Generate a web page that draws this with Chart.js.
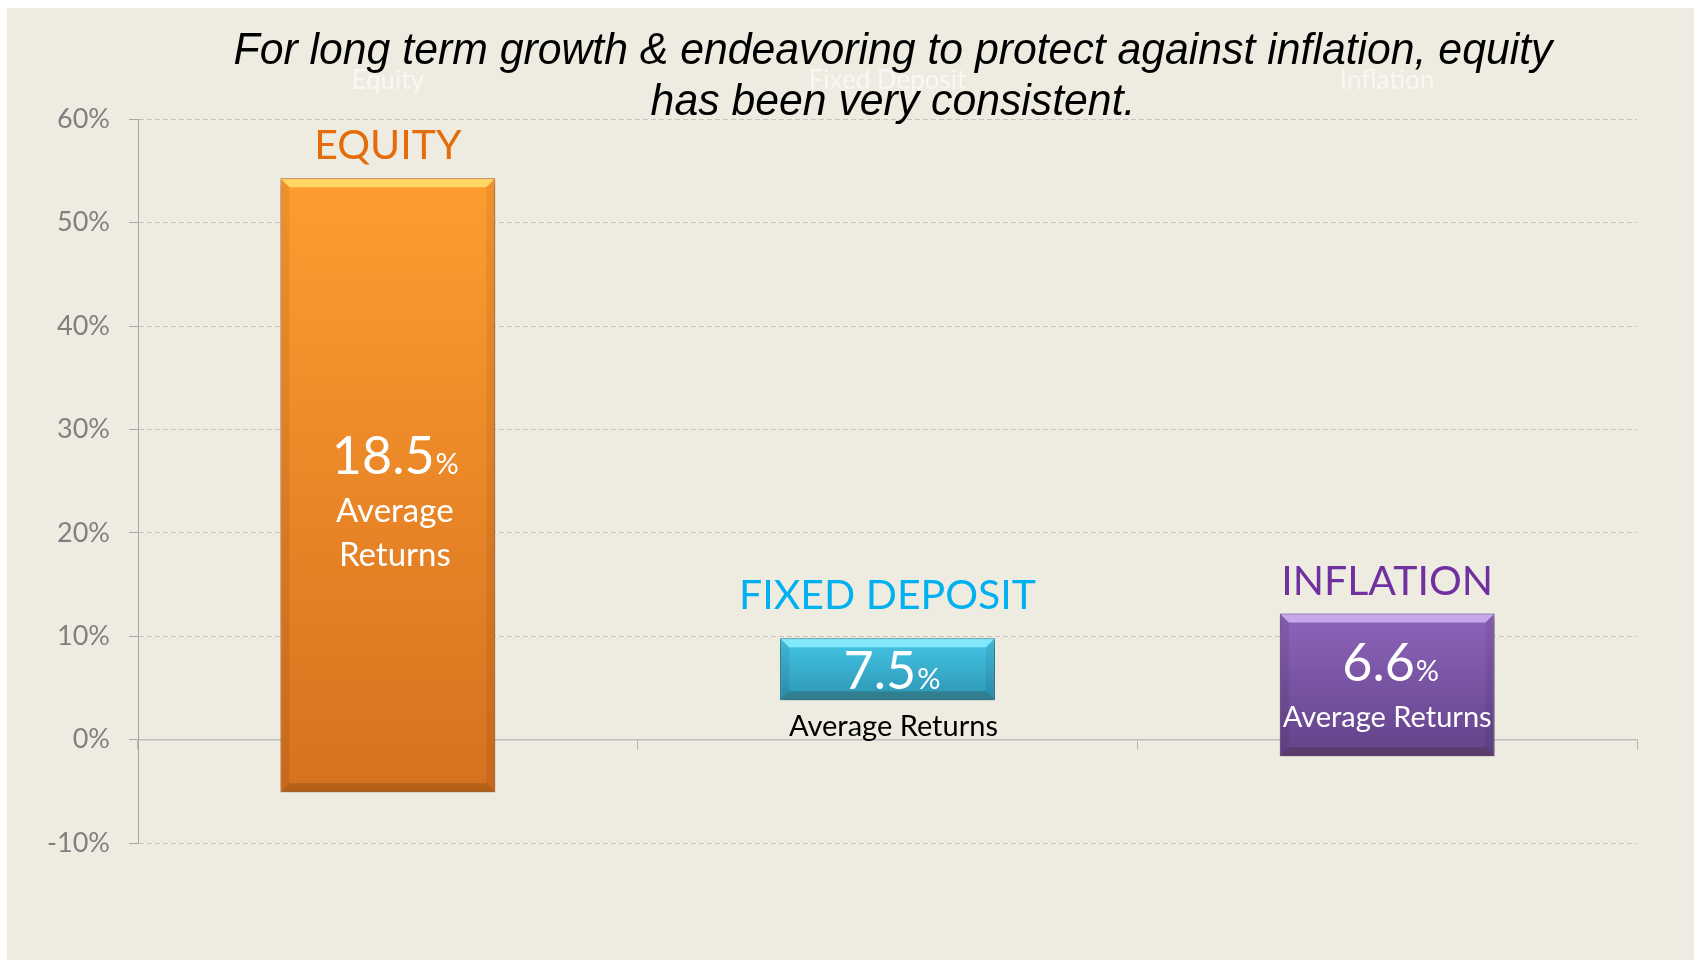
<!DOCTYPE html>
<html lang="en">
<head>
<meta charset="UTF-8" />
<meta name="viewport" content="width=device-width, initial-scale=1.0" />
<script src="https://cdn.jsdelivr.net/npm/chart.js"></script>
<title>Average Returns</title>
<style>
    html, body { margin: 0; padding: 0; background: #fff; }
    .wrap { position: relative; width: 1694px; height: 961px; }
    .headline {
        position: absolute;
        left: 93px;
        top: 23px;
        width: 1600px;
        margin: 0;
        font: italic 45px/51px "Liberation Sans Narrow", "Liberation Sans", Arial, sans-serif;
        color: #000;
        text-align: center;
        white-space: nowrap;
        pointer-events: none;
        transform: scaleX(0.95);
    }
</style>
</head>
<body>
<div class="wrap">
    <canvas id="returnsChart" width="1694" height="961"></canvas>
    <p class="headline">For long term growth &amp; endeavoring to protect against inflation, equity<br>has been very consistent.</p>
</div>

<script>
    const categories = ['Equity', 'Fixed Deposit', 'Inflation'];
    const headings = ['EQUITY', 'FIXED DEPOSIT', 'INFLATION'];
    const barLow = [-5.1, 3.8, -1.6];
    const barHigh = [54.3, 9.8, 12.2];
    const averageReturns = [18.5, 7.5, 6.6];
    const yMin = -10;
    const yMax = 60;
    const yStep = 10;

    // colours: gradient top, gradient bottom, border, bevel highlight, heading
    const fillTop = ['#ff9d30', '#46c6e6', '#8d64bb'];
    const fillBottom = ['#d6711f', '#2c95b4', '#634389'];
    const borderCol = ['#b9621a', '#23809c', '#56397a'];
    const bevelCol = ['rgba(255,226,110,0.85)', 'rgba(140,240,255,0.85)', 'rgba(210,180,245,0.85)'];
    const headingCol = ['#e46c0a', '#00b0f0', '#7030a0'];

    const BG = '#eeece1';
    const FONT = 'Lato, "Open Sans", sans-serif';

    function barFill(context) {
        const i = context.dataIndex;
        if (i === undefined) return fillTop[0];
        const y = context.chart.scales.y;
        const top = y ? y.getPixelForValue(barHigh[i]) : NaN;
        const bottom = y ? y.getPixelForValue(barLow[i]) : NaN;
        if (!isFinite(top) || !isFinite(bottom)) return fillTop[i];
        const g = context.chart.ctx.createLinearGradient(0, top, 0, bottom);
        g.addColorStop(0, fillTop[i]);
        g.addColorStop(1, fillBottom[i]);
        return g;
    }

    const background = {
        id: 'background',
        beforeDraw(chart) {
            const ctx = chart.ctx;
            ctx.save();
            ctx.fillStyle = BG;
            ctx.fillRect(7, 8, chart.width - 7, chart.height - 9);
            ctx.restore();
        }
    };

    // drop shadow, bevel edges and the text written on / around each bar
    const barDecor = {
        id: 'barDecor',
        beforeDatasetsDraw(chart) {
            const ctx = chart.ctx;
            ctx.save();
            ctx.shadowColor = 'rgba(0,0,0,0.35)';
            ctx.shadowBlur = 7;
            ctx.shadowOffsetX = 1;
            ctx.shadowOffsetY = 4;
        },
        afterDatasetsDraw(chart) {
            const ctx = chart.ctx;
            ctx.restore();
            const meta = chart.getDatasetMeta(0);
            meta.data.forEach((bar, i) => {
                const p = bar.getProps(['x', 'y', 'base', 'width'], true);
                const l = p.x - p.width / 2, r = p.x + p.width / 2;
                const t = Math.min(p.y, p.base), b = Math.max(p.y, p.base);
                const e = 9;
                ctx.save();
                // top bevel
                ctx.fillStyle = bevelCol[i];
                ctx.beginPath();
                ctx.moveTo(l + 1, t + 1); ctx.lineTo(r - 1, t + 1); ctx.lineTo(r - e, t + e); ctx.lineTo(l + e, t + e);
                ctx.closePath(); ctx.fill();
                // bottom bevel
                ctx.fillStyle = 'rgba(60,30,0,0.22)';
                ctx.beginPath();
                ctx.moveTo(l + 1, b - 1); ctx.lineTo(r - 1, b - 1); ctx.lineTo(r - e, b - e); ctx.lineTo(l + e, b - e);
                ctx.closePath(); ctx.fill();
                // side bevels
                ctx.fillStyle = 'rgba(0,0,0,0.07)';
                ctx.beginPath();
                ctx.moveTo(l + 1, t + 1); ctx.lineTo(l + e, t + e); ctx.lineTo(l + e, b - e); ctx.lineTo(l + 1, b - 1);
                ctx.closePath(); ctx.fill();
                ctx.beginPath();
                ctx.moveTo(r - 1, t + 1); ctx.lineTo(r - e, t + e); ctx.lineTo(r - e, b - e); ctx.lineTo(r - 1, b - 1);
                ctx.closePath(); ctx.fill();
                ctx.restore();

                drawTexts(ctx, i, p.x, t, b);
            });
        }
    };

    function valueText(ctx, x, baseline, value, size) {
        const num = value.toFixed(1);
        ctx.font = size + 'px ' + FONT;
        const w1 = ctx.measureText(num).width;
        ctx.font = Math.round(size * 0.55) + 'px ' + FONT;
        const w2 = ctx.measureText('%').width;
        const start = x - (w1 + w2) / 2;
        ctx.textAlign = 'left';
        ctx.textBaseline = 'alphabetic';
        ctx.font = size + 'px ' + FONT;
        ctx.fillText(num, start, baseline);
        ctx.font = Math.round(size * 0.55) + 'px ' + FONT;
        ctx.fillText('%', start + w1 + 1, baseline);
    }

    function drawTexts(ctx, i, x, top, bottom) {
        ctx.save();
        ctx.textAlign = 'center';
        ctx.textBaseline = 'middle';
        ctx.fillStyle = headingCol[i];
        ctx.font = '41px ' + FONT;
        const headGap = i === 1 ? 42 : 32;
        ctx.fillText(headings[i], x, top - headGap);

        ctx.fillStyle = '#fff';
        if (i === 0) {
            valueText(ctx, x + 7, top + 296, averageReturns[i], 52);
            ctx.textAlign = 'center';
            ctx.textBaseline = 'middle';
            ctx.font = '33px ' + FONT;
            ctx.fillText('Average', x + 7, top + 333);
            ctx.fillText('Returns', x + 7, top + 377);
        } else if (i === 1) {
            valueText(ctx, x + 4, top + 51, averageReturns[i], 52);
            ctx.textAlign = 'center';
            ctx.textBaseline = 'middle';
            ctx.fillStyle = '#000';
            ctx.font = '29px ' + FONT;
            ctx.fillText('Average Returns', x + 6, bottom + 26);
        } else {
            valueText(ctx, x + 3, top + 68, averageReturns[i], 52);
            ctx.textAlign = 'center';
            ctx.textBaseline = 'middle';
            ctx.font = '29px ' + FONT;
            ctx.fillText('Average Returns', x, top + 104);
        }
        ctx.restore();
    }

    const ctx = document.getElementById('returnsChart');

    const returnsChart = new Chart(ctx, {
        type: 'bar',
        data: {
            labels: categories,
            datasets: [{
                data: categories.map((c, i) => [barLow[i], barHigh[i]]),
                backgroundColor: barFill,
                borderColor: borderCol,
                borderWidth: 1,
                borderSkipped: false,
                barPercentage: 0.43,
                categoryPercentage: 1
            }]
        },
        options: {
            responsive: false,
            animation: false,
            layout: {
                padding: { top: 50, right: 57, bottom: 118, left: 0 }
            },
            scales: {
                x: {
                    position: { y: 0 },
                    offset: true,
                    ticks: { display: false },
                    grid: {
                        offset: true,
                        drawOnChartArea: false,
                        drawTicks: true,
                        tickLength: 9,
                        color: '#b4b4b4'
                    },
                    border: { display: true, color: '#bdbdbd', width: 1.5 }
                },
                x2: {
                    type: 'category',
                    labels: categories,
                    position: 'top',
                    offset: true,
                    grid: { display: false },
                    border: { display: false },
                    ticks: {
                        color: 'rgba(255,255,255,0.6)',
                        padding: 15,
                        autoSkip: false,
                        font: { family: FONT, size: 26 }
                    }
                },
                y: {
                    min: yMin,
                    max: yMax,
                    afterFit(scale) { scale.width = 138; },
                    ticks: {
                        stepSize: yStep,
                        color: '#808080',
                        padding: 19,
                        font: { family: FONT, size: 27 },
                        callback: v => v + '%'
                    },
                    grid: {
                        color: '#c6c5bd',
                        tickColor: '#a6a6a6',
                        tickLength: 9,
                        lineWidth: 1
                    },
                    border: { display: true, color: '#a6a6a6', width: 1, dash: [5, 3] }
                }
            },
            plugins: {
                legend: { display: false },
                tooltip: { enabled: false }
            }
        },
        plugins: [background, barDecor]
    });
</script>
</body>
</html>
